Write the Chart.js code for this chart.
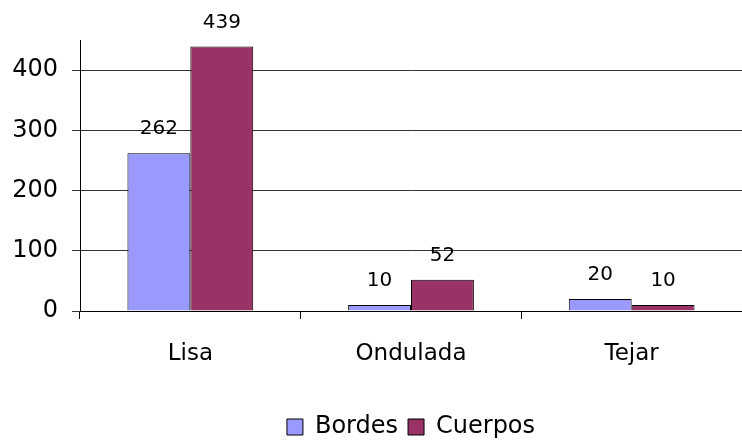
<!DOCTYPE html>
<html>
<head>
<meta charset="utf-8">
<script src="https://cdn.jsdelivr.net/npm/chart.js@4.4.1/dist/chart.umd.min.js"></script>
<style>
html,body{margin:0;padding:0;background:#fff;}
#wrap{width:742px;height:440px;}
</style>
</head>
<body>
<div id="wrap"><canvas id="c" width="742" height="440"></canvas></div>
<script>
const categories = ["Lisa", "Ondulada", "Tejar"];
const bordes = [262, 10, 20];
const cuerpos = [439, 52, 10];
const yTicks = [0, 100, 200, 300, 400];
const yMax = 450;

const FONT = "'DejaVu Sans', 'Liberation Sans', Arial, sans-serif";

const valueLabels = {
  id: 'valueLabels',
  afterDatasetsDraw(chart) {
    const ctx = chart.ctx;
    ctx.save();
    ctx.font = "20px " + FONT;
    ctx.fillStyle = '#000';
    ctx.textAlign = 'center';
    ctx.textBaseline = 'bottom';
    chart.data.datasets.forEach((ds, i) => {
      const meta = chart.getDatasetMeta(i);
      meta.data.forEach((bar, j) => {
        ctx.fillText(String(ds.data[j]), bar.x, bar.y - 14);
      });
    });
    ctx.restore();
  }
};

new Chart(document.getElementById('c'), {
  type: 'bar',
  data: {
    labels: categories,
    datasets: [
      { label: 'Bordes', data: bordes, backgroundColor: '#9999FF', borderColor: '#000', borderWidth: 1 },
      { label: 'Cuerpos', data: cuerpos, backgroundColor: '#993366', borderColor: '#000', borderWidth: 1 }
    ]
  },
  options: {
    responsive: false,
    animation: false,
    layout: { padding: { top: 40, right: 0, left: 10, bottom: -9 } },
    datasets: { bar: { categoryPercentage: 0.57, barPercentage: 1.0 } },
    scales: {
      x: {
        afterFit(scale) { scale.height = 94; },
        grid: { display: true, drawOnChartArea: false, color: '#000', tickLength: 8, offset: true },
        border: { display: true, color: '#000', width: 1 },
        ticks: { color: '#000', font: { family: FONT, size: 23 }, padding: 21 }
      },
      y: {
        min: 0, max: yMax,
        afterFit(scale) { scale.width = 70; },
        afterBuildTicks(scale) { scale.ticks = yTicks.map(v => ({ value: v })); },
        grid: { color: '#333', tickLength: 8, lineWidth: 1 },
        border: { display: true, color: '#000', width: 1 },
        ticks: {
          color: '#000', font: { family: FONT, size: 24 }, padding: 14,
          callback: v => String(v)
        }
      }
    },
    plugins: {
      legend: {
        position: 'bottom',
        fullSize: false,
        labels: {
          color: '#000', font: { family: FONT, size: 24 },
          boxWidth: 16, boxHeight: 16, padding: 10,
          generateLabels(chart) {
            return chart.data.datasets.map((ds, i) => ({
              text: ds.label, fillStyle: ds.backgroundColor, strokeStyle: '#000',
              lineWidth: 1, datasetIndex: i, hidden: false, fontColor: '#000'
            }));
          }
        }
      },
      tooltip: { enabled: false }
    }
  },
  plugins: [valueLabels]
});
</script>
</body>
</html>
